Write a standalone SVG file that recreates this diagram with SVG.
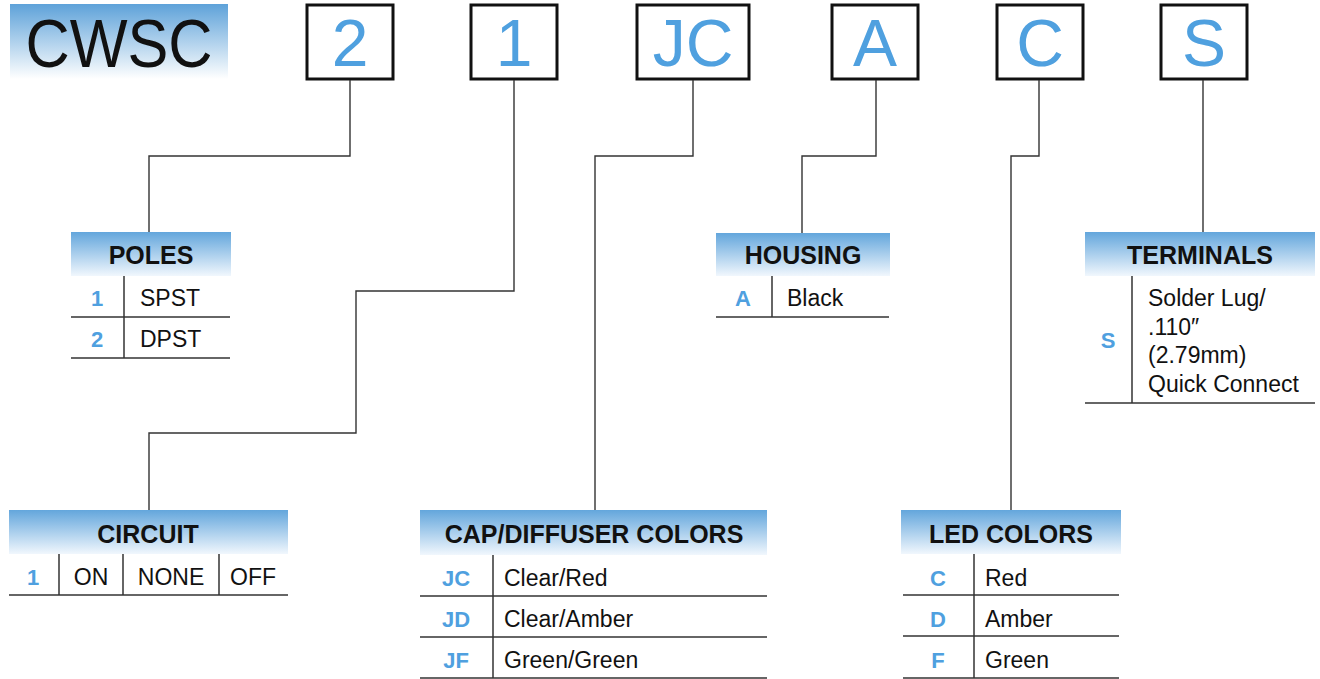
<svg xmlns="http://www.w3.org/2000/svg" width="1320" height="679" viewBox="0 0 1320 679">
<defs>
<linearGradient id="hdr" x1="0" y1="0" x2="0" y2="1">
<stop offset="0" stop-color="#63a6dc"/>
<stop offset="1" stop-color="#f1f7fd"/>
</linearGradient>
<linearGradient id="logo" x1="0" y1="0" x2="0" y2="1">
<stop offset="0" stop-color="#5ea2d9"/>
<stop offset="1" stop-color="#ffffff"/>
</linearGradient>
<style>
.box{fill:#fff;stroke:#111;stroke-width:3}
.big{font-family:"Liberation Sans",Arial,sans-serif;font-size:66px;fill:#4fa0df;text-anchor:middle}
.hd{fill:url(#hdr)}
.ht{font-family:"Liberation Sans",Arial,sans-serif;font-size:25px;font-weight:bold;fill:#111;text-anchor:middle}
.code{font-family:"Liberation Sans",Arial,sans-serif;font-size:22px;font-weight:bold;fill:#4fa0df;text-anchor:middle}
.tx{font-family:"Liberation Sans",Arial,sans-serif;font-size:23px;fill:#111}
.tl{stroke:#333;stroke-width:1.5;fill:none}
.cn{stroke:#333;stroke-width:1.4;fill:none}
</style>
</defs>
<rect width="1320" height="679" fill="#fff"/>
<g id="logo-cwsc">
<rect x="10" y="4" width="218" height="75" fill="url(#logo)"/>
<text x="119" y="67" font-family="Liberation Sans,Arial,sans-serif" font-size="68" fill="#111" text-anchor="middle" textLength="187" lengthAdjust="spacingAndGlyphs">CWSC</text>
</g>
<g id="box-2"><rect class="box" x="307" y="5" width="86" height="74"/><text class="big" x="350" y="66">2</text></g>
<g id="box-1"><rect class="box" x="471" y="5" width="86" height="74"/><text class="big" x="514" y="66">1</text></g>
<g id="box-jc"><rect class="box" x="637" y="5" width="112" height="74"/><text class="big" x="693" y="66">JC</text></g>
<g id="box-a"><rect class="box" x="832" y="5" width="86" height="74"/><text class="big" x="875" y="66">A</text></g>
<g id="box-c"><rect class="box" x="997" y="5" width="86" height="74"/><text class="big" x="1040" y="66">C</text></g>
<g id="box-s"><rect class="box" x="1161" y="5" width="86" height="74"/><text class="big" x="1204" y="66">S</text></g>
<g id="connectors">
<polyline class="cn" points="350,80 350,156 149,156 149,232"/>
<polyline class="cn" points="514,80 514,291 356,291 356,433 149,433 149,510"/>
<polyline class="cn" points="693,80 693,156 595,156 595,510"/>
<polyline class="cn" points="876,80 876,156 802,156 802,233"/>
<polyline class="cn" points="1039,80 1039,156 1011,156 1011,510"/>
<polyline class="cn" points="1203,80 1203,232"/>
</g>
<g id="poles">
<rect class="hd" x="71" y="232" width="160" height="44"/>
<text class="ht" x="151" y="264">POLES</text>
<line class="tl" x1="124" y1="276" x2="124" y2="358"/>
<line class="tl" x1="71" y1="317" x2="230" y2="317"/>
<line class="tl" x1="71" y1="358" x2="230" y2="358"/>
<text class="code" x="97" y="306">1</text><text class="tx" x="140" y="306">SPST</text>
<text class="code" x="97" y="347">2</text><text class="tx" x="140" y="347">DPST</text>
</g>
<g id="circuit">
<rect class="hd" x="9" y="510" width="279" height="44"/>
<text class="ht" x="148" y="543">CIRCUIT</text>
<line class="tl" x1="59" y1="554" x2="59" y2="595"/>
<line class="tl" x1="123" y1="554" x2="123" y2="595"/>
<line class="tl" x1="219" y1="554" x2="219" y2="595"/>
<line class="tl" x1="9" y1="595" x2="288" y2="595"/>
<text class="code" x="33" y="585">1</text>
<text class="tx" x="91" y="585" text-anchor="middle">ON</text>
<text class="tx" x="171" y="585" text-anchor="middle">NONE</text>
<text class="tx" x="253" y="585" text-anchor="middle">OFF</text>
</g>
<g id="cap-diffuser">
<rect class="hd" x="420" y="510" width="347" height="45"/>
<text class="ht" x="594" y="543">CAP/DIFFUSER COLORS</text>
<line class="tl" x1="493" y1="555" x2="493" y2="678"/>
<line class="tl" x1="420" y1="596" x2="767" y2="596"/>
<line class="tl" x1="420" y1="637" x2="767" y2="637"/>
<line class="tl" x1="420" y1="678" x2="767" y2="678"/>
<text class="code" x="456" y="586">JC</text><text class="tx" x="504" y="586">Clear/Red</text>
<text class="code" x="456" y="627">JD</text><text class="tx" x="504" y="627">Clear/Amber</text>
<text class="code" x="456" y="668">JF</text><text class="tx" x="504" y="668">Green/Green</text>
</g>
<g id="housing">
<rect class="hd" x="716" y="233" width="174" height="43"/>
<text class="ht" x="803" y="264">HOUSING</text>
<line class="tl" x1="772" y1="276" x2="772" y2="317"/>
<line class="tl" x1="716" y1="317" x2="889" y2="317"/>
<text class="code" x="743" y="306">A</text><text class="tx" x="787" y="306">Black</text>
</g>
<g id="terminals">
<rect class="hd" x="1085" y="232" width="230" height="44"/>
<text class="ht" x="1200" y="264">TERMINALS</text>
<line class="tl" x1="1132" y1="276" x2="1132" y2="403"/>
<line class="tl" x1="1085" y1="403" x2="1315" y2="403"/>
<text class="code" x="1108" y="348">S</text>
<text class="tx" x="1148" y="306">Solder Lug/</text>
<text class="tx" x="1148" y="335">.110″</text>
<text class="tx" x="1148" y="363">(2.79mm)</text>
<text class="tx" x="1148" y="392">Quick Connect</text>
</g>
<g id="led-colors">
<rect class="hd" x="901" y="510" width="220" height="44"/>
<text class="ht" x="1011" y="543">LED COLORS</text>
<line class="tl" x1="974" y1="554" x2="974" y2="678"/>
<line class="tl" x1="903" y1="595" x2="1119" y2="595"/>
<line class="tl" x1="903" y1="636" x2="1119" y2="636"/>
<line class="tl" x1="903" y1="678" x2="1119" y2="678"/>
<text class="code" x="938" y="586">C</text><text class="tx" x="985" y="586">Red</text>
<text class="code" x="938" y="627">D</text><text class="tx" x="985" y="627">Amber</text>
<text class="code" x="938" y="668">F</text><text class="tx" x="985" y="668">Green</text>
</g>
</svg>
